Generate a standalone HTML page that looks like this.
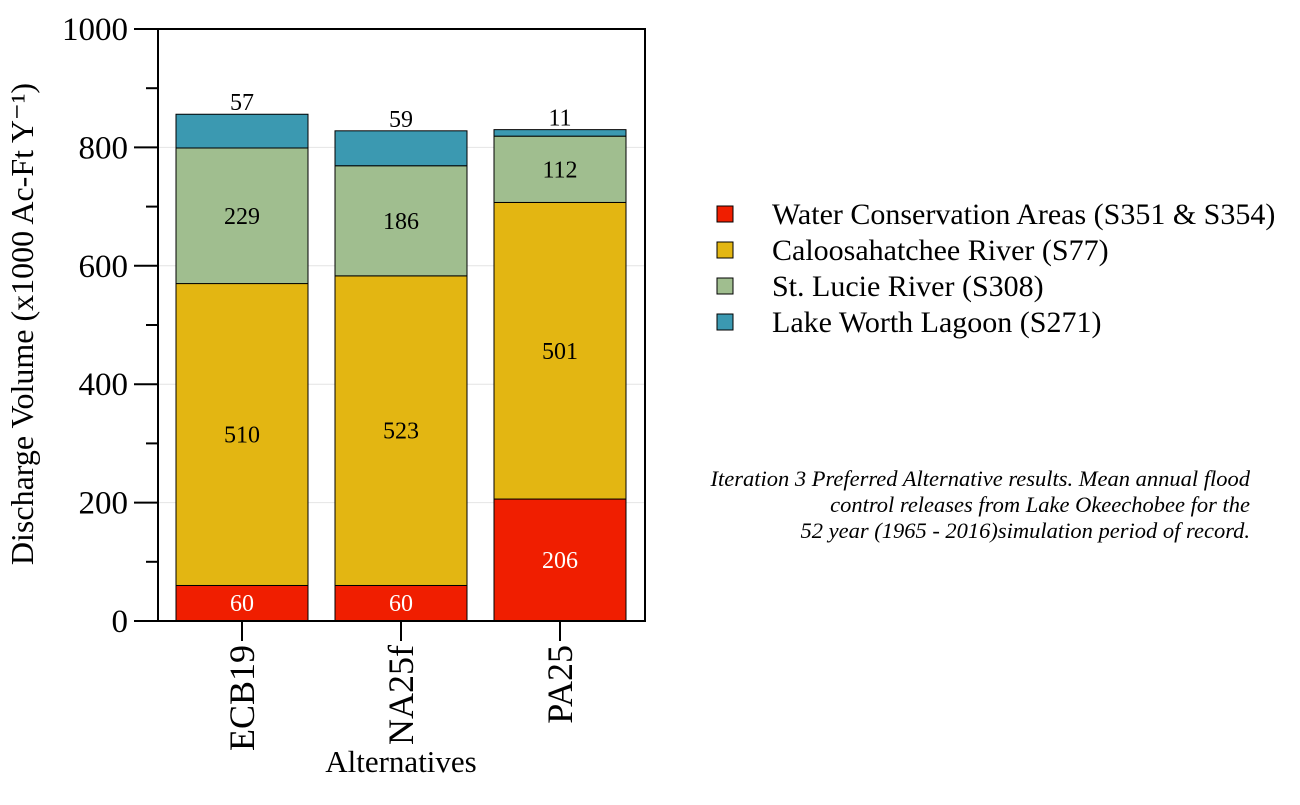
<!DOCTYPE html>
<html><head><meta charset="utf-8"><style>
body{margin:0;background:#fff}
svg text{font-family:"Liberation Serif",serif}
</style></head><body>
<svg width="1300" height="800" xmlns="http://www.w3.org/2000/svg">
<g id="grid"></g>
<g id="bars"></g>
<g id="axes"></g>
<text x="33" y="324" font-size="32" text-anchor="middle" transform="rotate(-90 33 324)">Discharge Volume (x1000 Ac-Ft Y⁻¹)</text>
<text x="401" y="772" font-size="31" text-anchor="middle">Alternatives</text>
<g id="legend"></g>
<g font-size="22.5" font-style="italic" text-anchor="end">
<text x="1250" y="486">Iteration 3 Preferred Alternative results. Mean annual flood</text>
<text x="1250" y="512">control releases from Lake Okeechobee for the</text>
<text x="1250" y="538">52 year (1965 - 2016)simulation period of record.</text>
</g>
</svg>
<script>
const categories=["ECB19","NA25f","PA25"];
const seriesNames=["Water Conservation Areas (S351 & S354)","Caloosahatchee River (S77)","St. Lucie River (S308)","Lake Worth Lagoon (S271)"];
const wca=[60,60,206];
const cal=[510,523,501];
const stl=[229,186,112];
const lwl=[57,59,11];
const yTicks=[0,200,400,600,800,1000];
const colors=["#f01e00","#e3b612","#a0be8f","#3b99b1"];
const NS="http://www.w3.org/2000/svg";
const X0=158,X1=645,Y0=621,Y1=29;
const y=v=>Y0-(v-0)/1000*(Y0-Y1);
const xc=i=>242+i*159;
const BW=132;
function mk(tag,attrs,parent,txt){const e=document.createElementNS(NS,tag);for(const k in attrs)e.setAttribute(k,attrs[k]);if(txt!==undefined)e.textContent=txt;parent.appendChild(e);return e;}
const grid=document.getElementById('grid'),bars=document.getElementById('bars'),axes=document.getElementById('axes'),legend=document.getElementById('legend');
yTicks.forEach(t=>{if(t>0&&t<1000){const l=mk('line',{x1:X0,x2:X1,y1:y(t),y2:y(t),stroke:'#e4e4e4','stroke-width':1},grid);

}});
const series=[wca,cal,stl,lwl];
categories.forEach((c,i)=>{let cum=0;series.forEach((s,k)=>{const v=s[i];const r=mk('rect',{x:xc(i)-BW/2,y:y(cum+v),width:BW,height:y(cum)-y(cum+v),fill:colors[k],stroke:'#000','stroke-width':1},bars);


let ty=(y(cum)+y(cum+v))/2+8;if(k===3)ty=y(cum+v)-4;
const t=mk('text',{x:xc(i),y:ty,'font-size':24,'text-anchor':'middle',fill:k===0?'#fff':'#000'},bars,String(v));


cum+=v;});
const tk=mk('line',{x1:xc(i),x2:xc(i),y1:Y0,y2:Y0+20,stroke:'#000','stroke-width':2},axes);


const lb=mk('text',{x:0,y:0,'font-size':36,'text-anchor':'end',transform:`translate(${xc(i)+12},${Y0+24}) rotate(-90)`},axes,c);

});
const box=mk('rect',{x:X0,y:Y1,width:X1-X0,height:Y0-Y1,fill:'none',stroke:'#000','stroke-width':2},axes);


for(let v=0;v<=1000;v+=100){const major=v%200===0;const l=mk('line',{x1:major?134:146,x2:X0,y1:y(v),y2:y(v),stroke:'#000','stroke-width':2},axes);

}
yTicks.forEach(t=>{const e=mk('text',{x:128,y:y(t)+11,'font-size':33,'text-anchor':'end'},axes,String(t));

});
seriesNames.forEach((n,k)=>{const yy=214+k*36;const r=mk('rect',{x:717,y:yy-8,width:16,height:16,fill:colors[k],stroke:'#000','stroke-width':1},legend);


const t=mk('text',{x:772,y:yy+10,'font-size':30},legend,n);

});
</script>
</body></html>
